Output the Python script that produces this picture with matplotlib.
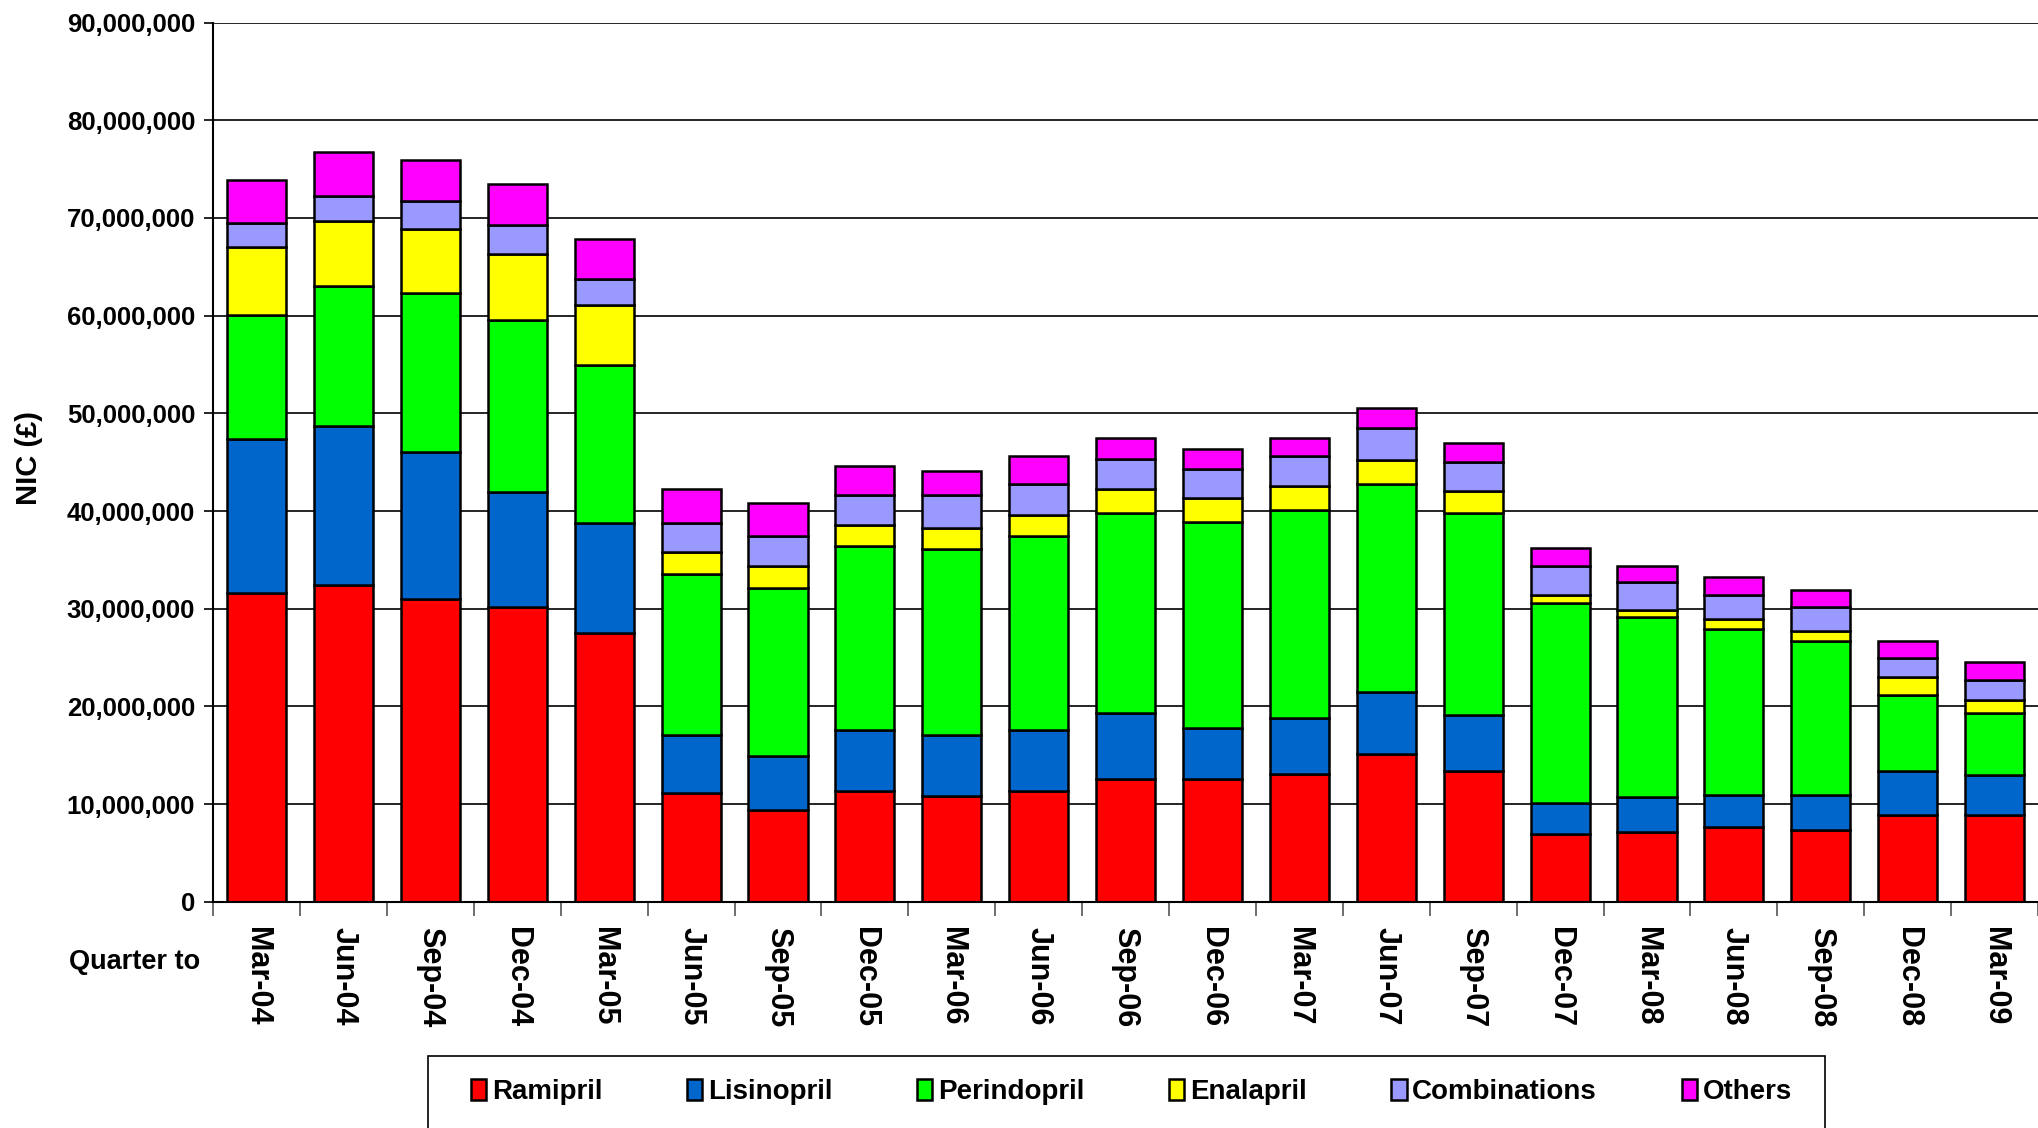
# Import libraries
import numpy as np
import matplotlib
matplotlib.use("Agg")
import matplotlib.pyplot as plt
from matplotlib.patches import Rectangle
from matplotlib.ticker import FuncFormatter, MultipleLocator

plt.rcParams["font.family"] = ["Liberation Sans", "DejaVu Sans"]
plt.rcParams["font.weight"] = "bold"

# Quarterly NIC (£ millions) by drug
quarters = ["Mar-04", "Jun-04", "Sep-04", "Dec-04", "Mar-05", "Jun-05", "Sep-05",
            "Dec-05", "Mar-06", "Jun-06", "Sep-06", "Dec-06", "Mar-07", "Jun-07",
            "Sep-07", "Dec-07", "Mar-08", "Jun-08", "Sep-08", "Dec-08", "Mar-09"]
ramipril = [31.6, 32.4, 31.0, 30.2, 27.5, 11.1, 9.4, 11.3, 10.8, 11.3, 12.6,
            12.6, 13.1, 15.1, 13.4, 6.9, 7.1, 7.7, 7.4, 8.9, 8.9]
lisinopril = [15.8, 16.3, 15.0, 11.8, 11.3, 6.0, 5.5, 6.3, 6.3, 6.3, 6.7,
              5.2, 5.7, 6.4, 5.7, 3.2, 3.6, 3.2, 3.5, 4.5, 4.1]
perindopril = [12.7, 14.3, 16.3, 17.6, 16.1, 16.5, 17.2, 18.8, 19.0, 19.8, 20.5,
               21.1, 21.3, 21.3, 20.7, 20.5, 18.5, 17.0, 15.8, 7.8, 6.3]
enalapril = [6.9, 6.7, 6.6, 6.7, 6.2, 2.2, 2.3, 2.2, 2.2, 2.2, 2.5,
             2.4, 2.5, 2.4, 2.3, 0.8, 0.7, 1.1, 1.0, 1.8, 1.4]
combinations = [2.45, 2.5, 2.8, 3.0, 2.7, 3.0, 3.0, 3.0, 3.3, 3.2, 3.0,
                3.0, 3.0, 3.3, 2.9, 3.0, 2.8, 2.4, 2.5, 2.0, 2.0]
others = [4.45, 4.5, 4.2, 4.2, 4.0, 3.5, 3.4, 3.0, 2.5, 2.8, 2.2,
          2.0, 1.9, 2.0, 2.0, 1.8, 1.7, 1.8, 1.7, 1.7, 1.8]

series = [("Ramipril", ramipril, "#FF0000"),
          ("Lisinopril", lisinopril, "#0066CC"),
          ("Perindopril", perindopril, "#00FF00"),
          ("Enalapril", enalapril, "#FFFF00"),
          ("Combinations", combinations, "#9999FF"),
          ("Others", others, "#FF00FF")]

fig = plt.figure(figsize=(20.38, 11.28), dpi=100)
ax = fig.add_axes([0.1046, 0.2005, 0.8954, 0.7795])

x = np.arange(len(quarters))
bottom = np.zeros(len(quarters))
for name, vals, color in series:
    v = np.array(vals) * 1e6
    ax.bar(x, v, 0.68, bottom=bottom, color=color, edgecolor="black",
           linewidth=1.8, label=name, zorder=3)
    bottom += v

# Axes styling
ax.set_xlim(-0.5, 20.36)
ax.set_ylim(0, 90e6)
ax.yaxis.set_major_locator(MultipleLocator(10e6))
ax.yaxis.set_major_formatter(FuncFormatter(lambda v, p: f"{int(v):,}"))
ax.grid(axis="y", color="black", linewidth=1.2, zorder=0)
ax.spines["right"].set_visible(False)
ax.spines["top"].set_visible(False)
for s in ["left", "bottom"]:
    ax.spines[s].set_linewidth(1.5)
    ax.spines[s].set_zorder(4)

ax.tick_params(axis="y", length=6.5, width=1.2, pad=6.5, labelsize=18.5)
ax.set_xticks(x)
ax.set_xticklabels(quarters, rotation=270, fontsize=22, va="top", ha="center")
ax.tick_params(axis="x", which="major", length=0, pad=18)
ax.set_xticks(np.arange(-0.5, len(quarters), 1.0), minor=True)
ax.tick_params(axis="x", which="minor", length=10, width=1.2, color="#555555")
for lbl in ax.get_yticklabels() + ax.get_xticklabels():
    lbl.set_fontweight("bold")

fig.text(29 / 2038, 1 - 458 / 1128, "NIC (£)", rotation=90, fontsize=21,
         fontweight="bold", ha="center", va="center")
fig.text(69 / 2038, 1 - 962 / 1128, "Quarter to", fontsize=19.5,
         fontweight="bold", ha="left", va="center")

# Legend box (runs off the bottom of the figure)
fig.patches.append(Rectangle((428 / 2038, -0.02), (1825 - 428) / 2038,
                             (1128 - 1056) / 1128 + 0.02,
                             transform=fig.transFigure, fill=False,
                             edgecolor="black", linewidth=1.2, zorder=-1))
leg = ax.legend(loc="center left", bbox_to_anchor=(471 / 2038, 1 - 1092 / 1128),
                bbox_transform=fig.transFigure, ncol=6, fontsize=20,
                frameon=False, handlelength=0.55, handleheight=0.8,
                handletextpad=0.2, columnspacing=3.05, borderpad=0,
                borderaxespad=0)
for t in leg.get_texts():
    t.set_fontweight("bold")

plt.savefig("out.png", dpi=100)
